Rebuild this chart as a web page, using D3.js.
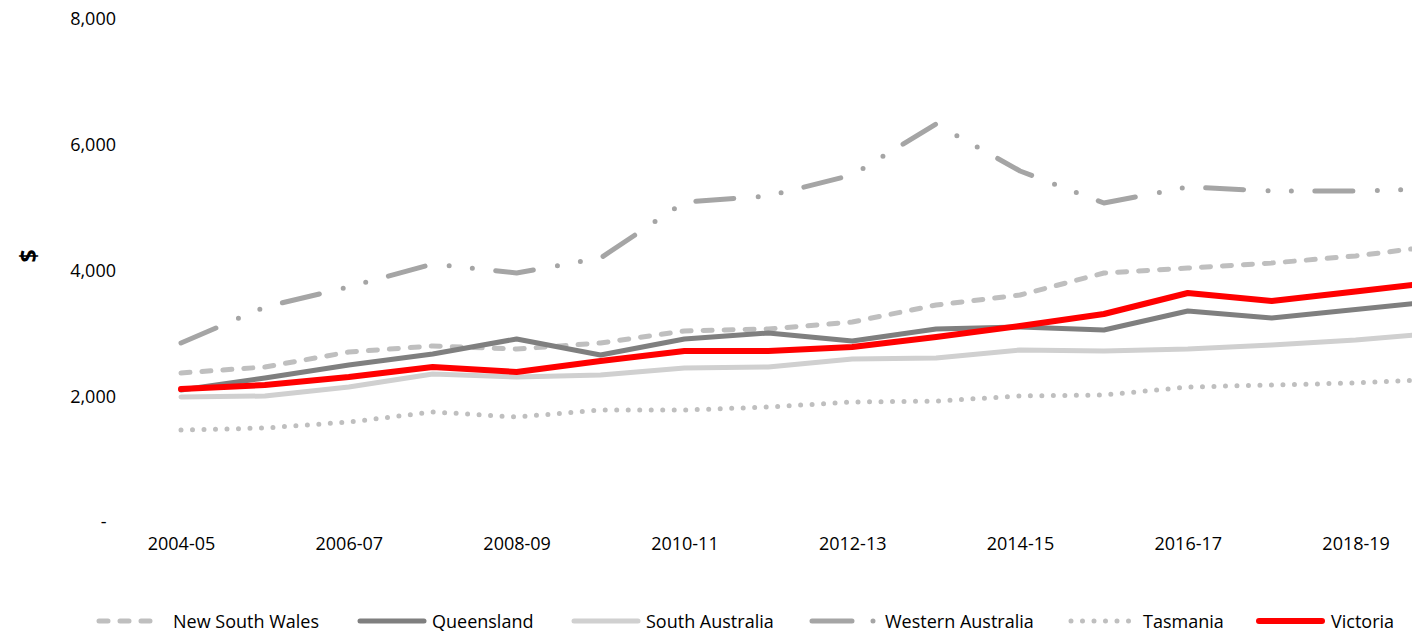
<!DOCTYPE html>
<html>
<head>
<meta charset="utf-8">
<script src="https://cdn.jsdelivr.net/npm/d3@7"></script>
<style>
  html, body { margin: 0; padding: 0; background: #fff; }
  svg { display: block; font-family: "Open Sans", "Noto Sans", sans-serif; }
</style>
</head>
<body>
<svg id="chart" width="1412" height="636"></svg>
<script>
const categories = ["2004-05","2005-06","2006-07","2007-08","2008-09","2009-10","2010-11","2011-12",
  "2012-13","2013-14","2014-15","2015-16","2016-17","2017-18","2018-19","2019-20"];
const yTicks = [0, 2000, 4000, 6000, 8000];

const nswValues = [2370, 2465, 2704, 2799, 2751, 2847, 3038, 3070, 3181, 3451, 3610, 3960, 4040, 4119, 4231, 4398];
const qldValues = [2099, 2290, 2497, 2672, 2911, 2656, 2911, 3006, 2879, 3070, 3101, 3054, 3356, 3245, 3378, 3515];
const saValues  = [1988, 2004, 2147, 2354, 2306, 2338, 2449, 2465, 2592, 2608, 2736, 2720, 2751, 2815, 2895, 3006];
const waValues  = [2847, 3420, 3738, 4103, 3960, 4199, 5089, 5185, 5519, 6330, 5583, 5074, 5328, 5265, 5265, 5300];
const tasValues = [1463, 1495, 1590, 1750, 1670, 1781, 1781, 1829, 1909, 1924, 2004, 2020, 2147, 2179, 2211, 2274];
const vicValues = [2115, 2179, 2306, 2465, 2386, 2561, 2720, 2720, 2783, 2942, 3117, 3308, 3642, 3515, 3667, 3818];

const seriesNames = ["New South Wales","Queensland","South Australia","Western Australia","Tasmania","Victoria"];
const seriesValues = [nswValues, qldValues, saValues, waValues, tasValues, vicValues];

const styles = [
  {color: "#bfbfbf", width: 5, dash: "9,12"},
  {color: "#7f7f7f", width: 5, dash: null},
  {color: "#d0d0d0", width: 5, dash: null},
  {color: "#a5a5a5", width: 5, dash: "38,24.5,0,23.3,0,23.5"},
  {color: "#bfbfbf", width: 5, dash: "0,11.5"},
  {color: "#ff0000", width: 6, dash: null}
];
const legendX = [96, 357, 571, 809, 1068, 1256];
const legendDash = ["9,12", null, null, "40,21,0,100", "0,11.5", null];
const legendEnd = [62, 67, 67, 64.5, 62, 66];

const svg = d3.select("#chart");
const x = d3.scalePoint().domain(categories).range([181, 181 + 15 * 83.9]);
const y = d3.scaleLinear().domain([0, 8000]).range([522, 19]);

const FONT = "'Open Sans', 'Noto Sans', sans-serif";

// Y axis labels
const yAxis = d3.axisLeft(y).tickValues(yTicks).tickSize(0).tickPadding(0)
  .tickFormat(d => d === 0 ? "-\u00a0\u00a0" : d3.format(",")(d));
const gy = svg.append("g").attr("transform", "translate(116,0)").call(yAxis);
gy.select(".domain").remove();
gy.selectAll("text").attr("font-size", 18).attr("fill", "#000").attr("font-family", FONT);

// X axis labels
const xAxis = d3.axisBottom(x).tickValues(categories.filter((d, i) => i % 2 === 0)).tickSize(0).tickPadding(0);
const gx = svg.append("g").attr("transform", "translate(0,537)").call(xAxis);
gx.select(".domain").remove();
gx.selectAll("text").attr("font-size", 18).attr("fill", "#000").attr("font-family", FONT);

// Y title
svg.append("text")
  .attr("transform", "translate(28,256) rotate(-90)")
  .attr("text-anchor", "middle").attr("dominant-baseline", "central")
  .attr("font-family", FONT)
  .attr("font-size", 23).attr("font-weight", "bold").text("$");

// Lines
const line = d3.line().x((d, i) => x(categories[i])).y(d => y(d));
seriesValues.forEach((vals, k) => {
  const s = styles[k];
  svg.append("path")
    .datum(vals)
    .attr("d", line)
    .attr("fill", "none")
    .attr("stroke", s.color)
    .attr("stroke-width", s.width)
    .attr("stroke-linecap", "round")
    .attr("stroke-linejoin", "round")
    .attr("stroke-dasharray", s.dash);
});

// Legend
const ly = 621;
seriesNames.forEach((name, k) => {
  const s = styles[k];
  const g = svg.append("g").attr("transform", `translate(${legendX[k]},${ly})`);
  g.append("line")
    .attr("x1", 3).attr("x2", legendEnd[k]).attr("y1", 0).attr("y2", 0)
    .attr("stroke", s.color).attr("stroke-width", s.width)
    .attr("stroke-linecap", "round")
    .attr("stroke-dasharray", legendDash[k]);
  g.append("text")
    .attr("x", k === 0 ? 77 : (k === 3 ? 76 : 75)).attr("y", 0)
    .attr("dominant-baseline", "central")
    .attr("font-family", FONT)
    .attr("font-size", 18).attr("fill", "#000")
    .text(name);
});
</script>
</body>
</html>
